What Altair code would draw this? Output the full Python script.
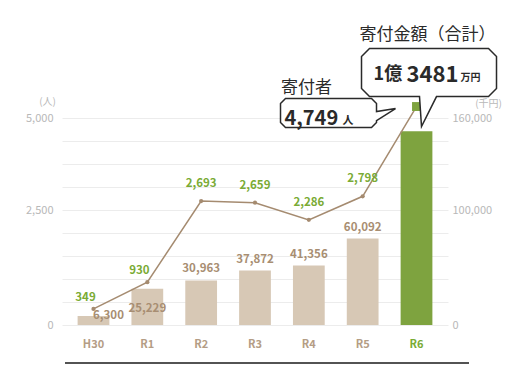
import altair as alt
import pandas as pd

# ---- data ----
cats = ["H30", "R1", "R2", "R3", "R4", "R5", "R6"]
persons = [349, 930, 2693, 2659, 2286, 2798, 4749]          # 寄付者 (人)
amounts = [6300, 25229, 30963, 37872, 41356, 60092, 134810]  # 寄付金額 (千円)

left_ticks = [0, 500, 1000, 1500, 2000, 2500, 3000, 3500, 4000, 4500]
left_labels = {0: "0", 2500: "2,500", 4500: "5,000"}
right_ticks = [0, 16000, 32000, 48000, 64000, 80000, 96000, 112000, 128000, 144000]
right_labels = {0: "0", 80000: "100,000", 144000: "160,000"}

FONT = "Noto Sans CJK JP"
BAR = "#d7c8b5"
GREEN = "#7ea33f"
GREEN_TXT = "#7aab35"
BROWN_LINE = "#a58b70"
BROWN_TXT = "#a88e72"
XLAB = "#b49d85"
AXIS = "#b8b8b8"
GRID = "#ececec"
INK = "#2a2a2a"

df = pd.DataFrame({"cat": cats, "persons": persons, "amount": amounts})


def label_expr(d):
    parts = [f"datum.value == {k} ? '{v}'" for k, v in d.items()]
    return " : ".join(parts) + " : ''"


# derived callout strings
total_yen = amounts[-1] * 1000
oku = total_yen // 100_000_000
man = (total_yen % 100_000_000) // 10_000
oku_txt = f"{oku}億"
man_txt = f"{man}"
pers_txt = f"{persons[-1]:,}"

xenc = alt.X(
    "cat:N", sort=cats,
    scale=alt.Scale(paddingInner=0.41, paddingOuter=0.29),
    axis=alt.Axis(title=None, domain=False, ticks=False, labelAngle=0, labelPadding=13,
                  labelFontSize=11, labelFontWeight="bold", labelFont=FONT,
                  labelColor=alt.condition("datum.value == 'R6'", alt.value(GREEN_TXT), alt.value(XLAB))),
)

yA = alt.Y(
    "amount:Q",
    scale=alt.Scale(domain=[0, 144000], nice=False),
    axis=alt.Axis(orient="right", values=right_ticks, labelExpr=label_expr(right_labels),
                  grid=False, domain=False, ticks=False, labelPadding=4, labelColor=AXIS,
                  labelFontSize=11, labelFont=FONT, labelAlign="left",
                  title="(千円)", titleAngle=0, titleX=40, titleY=-15, titleAlign="center",
                  titleBaseline="middle", titleColor=AXIS, titleFontWeight="normal",
                  titleFontSize=10, titleFont=FONT),
)

yP = alt.Y(
    "persons:Q",
    scale=alt.Scale(domain=[0, 4500], nice=False),
    axis=alt.Axis(orient="left", values=left_ticks, labelExpr=label_expr(left_labels),
                  grid=True, gridColor=GRID, domain=False, ticks=False, labelPadding=9,
                  labelColor=AXIS, labelFontSize=11, labelFont=FONT,
                  title="(人)", titleAngle=0, titleX=-15, titleY=-17, titleAlign="center",
                  titleBaseline="middle", titleColor=AXIS, titleFontWeight="normal",
                  titleFontSize=10, titleFont=FONT),
)

base = alt.Chart(df)

# ---- bars (right scale) ----
bars = base.mark_bar().encode(
    x=xenc, y=yA,
    color=alt.condition("datum.cat == 'R6'", alt.value(GREEN), alt.value(BAR)),
)
txt_bar = dict(font=FONT, fontSize=11.5, fontWeight="bold", color=BROWN_TXT, baseline="middle")
bl_main = base.transform_filter(
    alt.FieldOneOfPredicate(field="cat", oneOf=["R2", "R3", "R4", "R5"])
).mark_text(dy=-11, **txt_bar).encode(x=xenc, y=yA, text=alt.Text("amount:Q", format=","))
bl_h30 = base.transform_filter("datum.cat == 'H30'").mark_text(dx=15, dy=0, **txt_bar).encode(
    x=xenc, y=yA, text=alt.Text("amount:Q", format=","))
bl_r1 = base.transform_filter("datum.cat == 'R1'").mark_text(dy=20, **txt_bar).encode(
    x=xenc, y=yA, text=alt.Text("amount:Q", format=","))
bar_group = alt.layer(bars, bl_main, bl_h30, bl_r1)

# ---- line (left scale) ----
line = base.mark_line(color=BROWN_LINE, strokeWidth=1.5).encode(x=xenc, y=yP)
dots = base.transform_filter("datum.cat != 'R6'").mark_circle(size=18, color=BROWN_LINE, opacity=1).encode(x=xenc, y=yP)
sq = base.transform_filter("datum.cat == 'R6'").mark_square(size=80, color=GREEN, opacity=1).encode(x=xenc, y=yP)

txt_g = dict(font=FONT, fontSize=11.5, fontWeight="bold", color=GREEN_TXT, baseline="middle")
gl_main = base.transform_filter(
    alt.FieldOneOfPredicate(field="cat", oneOf=["R2", "R3", "R4", "R5"])
).mark_text(dy=-17, **txt_g).encode(x=xenc, y=yP, text=alt.Text("persons:Q", format=","))
gl_low = base.transform_filter(
    alt.FieldOneOfPredicate(field="cat", oneOf=["H30", "R1"])
).mark_text(dx=-8, dy=-11, **txt_g).encode(x=xenc, y=yP, text=alt.Text("persons:Q", format=","))

# callout shapes anchored on the R6 point (size=4 -> path units are pixels)
PATH_PERS = ("M -131 -8 L -45 -8 L -40 -3 L -40 5 L -21 2 L -40 14 L -40 16 "
             "L -45 21 L -131 21 L -136 16 L -136 -3 Z")
PATH_AMT = ("M -47 -58 L 72 -58 L 80 -50 L 80 -18 L 72 -10 L 20 -10 L 5 20 L 3 -10 "
            "L -47 -10 L -55 -18 L -55 -50 Z")
r6 = base.transform_filter("datum.cat == 'R6'")
box_style = dict(size=4, filled=True, fill="white", stroke=INK, strokeWidth=1.5,
                 opacity=1, fillOpacity=1, strokeJoin="miter")
box_p = r6.mark_point(shape=PATH_PERS, **box_style).encode(x=xenc, y=yP)
box_a = r6.mark_point(shape=PATH_AMT, **box_style).encode(x=xenc, y=yP)


def ctext(text, dx, dy, size, weight="normal", align="left"):
    return r6.mark_text(text=text, dx=dx, dy=dy, fontSize=size, fontWeight=weight,
                        font=FONT, color=INK, align=align, baseline="middle").encode(x=xenc, y=yP)


t_amt_title = ctext("寄付金額（合計）", 11, -72, 17, align="center")
t_oku = ctext(oku_txt, -43, -32, 18, "bold")
t_man = ctext(man_txt, -10, -32, 22, "bold")
t_yen = ctext("万円", 44, -29, 10, "bold")
t_p_title = ctext("寄付者", -110, -19, 17, align="center")
t_pers = ctext(pers_txt, -132, 12, 20, "bold")
t_nin = ctext("人", -74, 14, 11, "bold")

rule = alt.Chart(pd.DataFrame({"k": [0]})).mark_rule(color="#1a1a1a", strokeWidth=1.5).encode(
    x=alt.value(3), x2=alt.value(407), y=alt.value(245))

line_group = alt.layer(line, dots, sq, gl_main, gl_low, box_a, box_p,
                       t_amt_title, t_oku, t_man, t_yen, t_p_title, t_pers, t_nin, rule)

chart = alt.layer(bar_group, line_group).resolve_scale(y="independent").properties(
    width=386, height=207,
    autosize=alt.AutoSizeParams(type="none"),
    padding={"left": 54, "top": 110, "right": 54, "bottom": 41},
).configure_view(stroke=None)

chart.save("out.html", embed_options={"renderer": "svg", "actions": False})
